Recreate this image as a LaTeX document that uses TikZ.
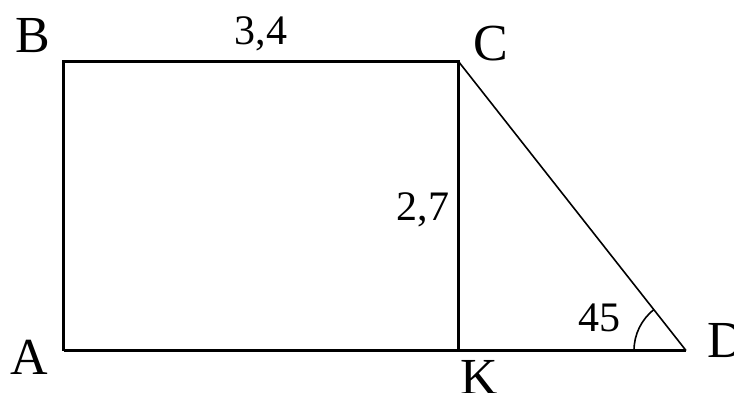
\documentclass[tikz,border=0pt]{standalone}
\usepackage{fontspec}
\setmainfont{Liberation Serif}
\usetikzlibrary{calc}
\begin{document}
\begin{tikzpicture}[x=1pt,y=-1pt,
  edge/.style={line width=3pt},
  slant/.style={line width=1.6pt},
  vlabel/.style={inner sep=0pt,font=\fontsize{52}{52}\selectfont},
  nlabel/.style={inner sep=0pt,font=\fontsize{42}{42}\selectfont}]
\useasboundingbox (0,0) rectangle (734,392);
\coordinate (A) at (63.5,350.5);
\coordinate (B) at (63.5,61.5);
\coordinate (C) at (458.5,61.5);
\coordinate (K) at (458.5,350.5);
\coordinate (D) at (686,350.5);
\draw[edge] (A) -- (B) -- (C) -- (K);
\draw[edge] (A) -- (D);
\draw[slant] (C) -- (D);
\draw[slant] ($(D)+(180:52)$) arc[start angle=180,end angle=232,radius=52];
\node[vlabel] (lB) at (32.5,36) {B};
\node[vlabel] (lA) at (29,357) {A};
\node[vlabel] (lC) at (491,43.5) {C};
\node[vlabel] (lK) at (479,377) {K};
\node[vlabel,anchor=west] (lD) at (707,341) {D};
\node[nlabel] (l34) at (261,34) {3,4};
\node[nlabel] (l27) at (423,210) {2,7};
\node[nlabel] (l45) at (599,318) {45};
\end{tikzpicture}
\end{document}
